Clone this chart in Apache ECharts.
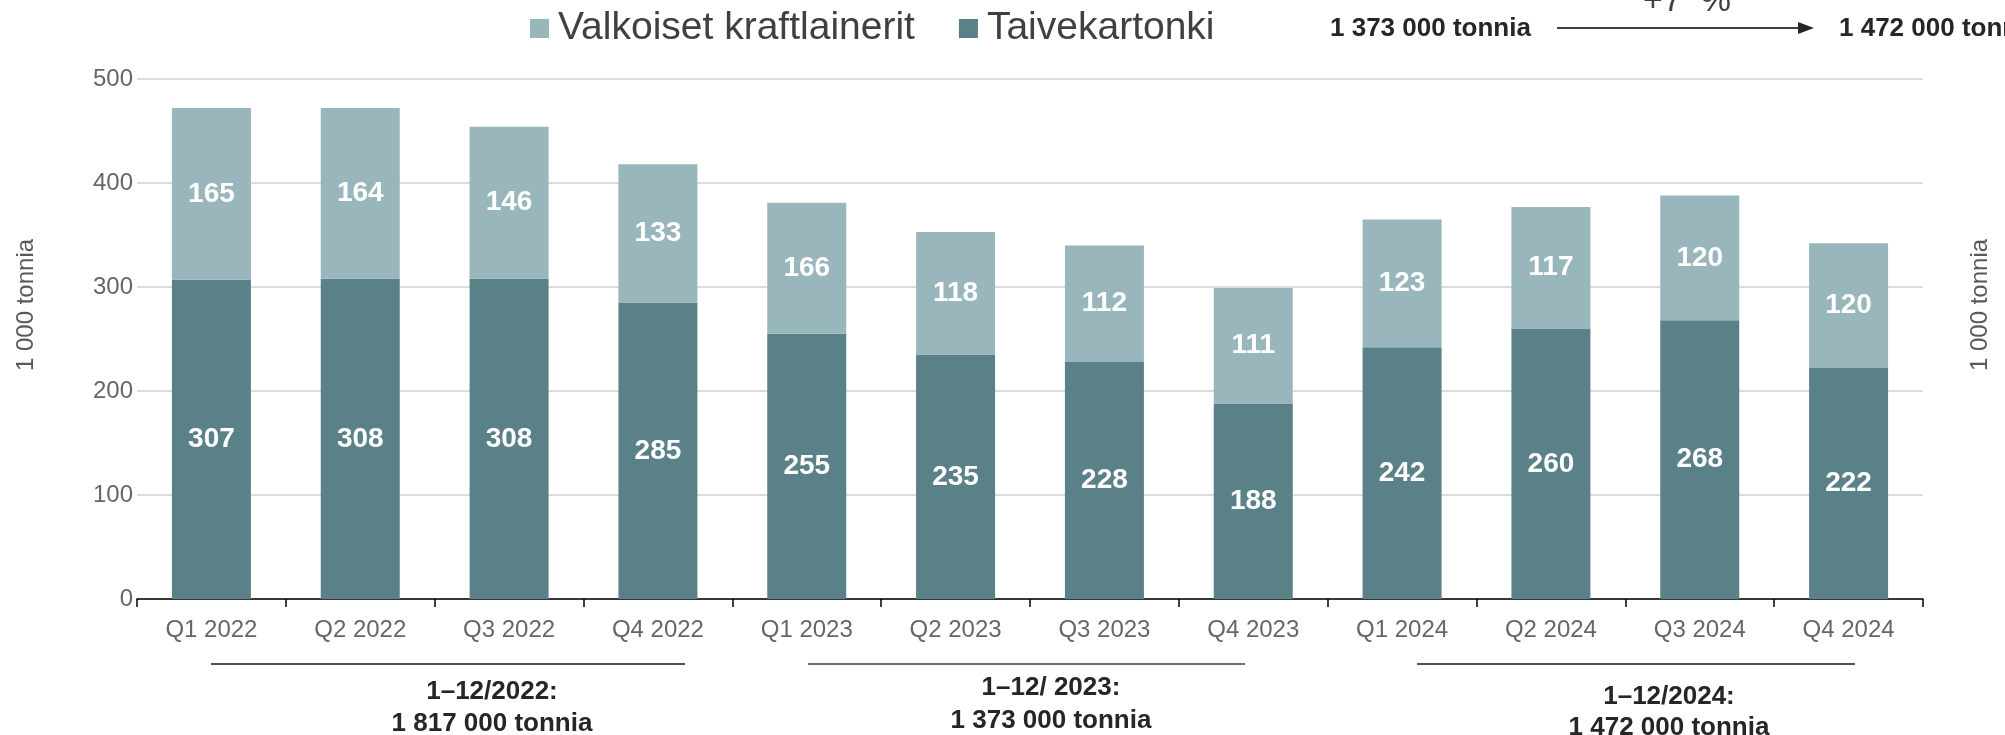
<!DOCTYPE html>
<html>
<head>
<meta charset="utf-8">
<script src="https://cdn.jsdelivr.net/npm/echarts@6/dist/echarts.min.js"></script>
<style>
  html, body { margin: 0; padding: 0; background: #fff; }
  #chart { width: 2005px; height: 735px; }
</style>
</head>
<body>
<div id="chart"></div>
<script>
// neljännekset
const quarters = ['Q1 2022', 'Q2 2022', 'Q3 2022', 'Q4 2022', 'Q1 2023', 'Q2 2023',
  'Q3 2023', 'Q4 2023', 'Q1 2024', 'Q2 2024', 'Q3 2024', 'Q4 2024'];
const taivekartonki = [307, 308, 308, 285, 255, 235, 228, 188, 242, 260, 268, 222];
// palkkien korkeudet kuvasta (Q1 2023 palkki on n. 126, vaikka teksti sanoo 166)
const valkoiset = [165, 164, 146, 133, 126, 118, 112, 111, 123, 117, 120, 120];
const valkoisetLabels = ['165', '164', '146', '133', '166', '118', '112', '111', '123', '117', '120', '120'];
const yTicks = [0, 100, 200, 300, 400, 500];

const darkCol = '#5a8187';
const lightCol = '#98b6bb';
const txt = '#595959';
const font = 'Liberation Sans, Arial, sans-serif';

const myChart = echarts.init(document.getElementById('chart'));

const barLabel = {
  show: true,
  position: 'inside',
  color: '#fff',
  fontFamily: font,
  fontWeight: 'bold',
  fontSize: 28
};

const option = {
  animation: false,
  grid: { left: 137, right: 82, top: 79, bottom: 136 },
  legend: {
    data: ['Valkoiset kraftlainerit', 'Taivekartonki'],
    left: 525,
    top: 4,
    icon: 'rect',
    itemWidth: 19,
    itemHeight: 19,
    itemGap: 44,
    textStyle: { fontFamily: font, fontSize: 39, color: '#404040', padding: [0, 0, 0, 4] }
  },
  xAxis: {
    type: 'category',
    data: quarters,
    axisLine: { lineStyle: { color: '#000', width: 1.5 } },
    axisTick: { show: true, length: 8, lineStyle: { color: '#000', width: 1.5 } },
    axisLabel: { color: '#666', fontFamily: font, fontSize: 24, margin: 19 }
  },
  yAxis: [{
    type: 'value',
    min: yTicks[0],
    max: yTicks[yTicks.length - 1],
    interval: 100,
    axisLine: { show: false },
    axisTick: { show: false },
    splitLine: { lineStyle: { color: '#d0d0d0', width: 1.5 } },
    axisLabel: { color: '#666', fontFamily: font, fontSize: 24, margin: 4 }
  }, {
    type: 'value',
    min: 0,
    max: 500,
    interval: 100,
    axisLine: { show: false },
    axisTick: { show: false },
    splitLine: { show: false },
    axisLabel: { show: false }
  }],
  series: [
    {
      name: 'Taivekartonki',
      type: 'bar',
      stack: 'a',
      barWidth: 79,
      data: taivekartonki,
      itemStyle: { color: darkCol },
      label: barLabel
    },
    {
      name: 'Valkoiset kraftlainerit',
      type: 'bar',
      stack: 'a',
      barWidth: 79,
      data: valkoiset,
      itemStyle: { color: lightCol },
      label: Object.assign({}, barLabel, {
        formatter: function (p) { return valkoisetLabels[p.dataIndex]; }
      })
    }
  ],
  graphic: [
    // akselien nimet
    { type: 'text', x: 26, y: 305, rotation: Math.PI / 2,
      style: { text: '1 000 tonnia', fill: txt, font: '24px ' + font, align: 'center', verticalAlign: 'middle' } },
    { type: 'text', x: 1980, y: 305, rotation: Math.PI / 2,
      style: { text: '1 000 tonnia', fill: txt, font: '24px ' + font, align: 'center', verticalAlign: 'middle' } },

    // ylhäällä oikealla muutos
    { type: 'text', x: 1330, y: 29,
      style: { text: '1 373 000 tonnia', fill: '#262626', font: 'bold 26px ' + font, align: 'left', verticalAlign: 'middle' } },
    { type: 'line', shape: { x1: 1557, y1: 28, x2: 1800, y2: 28 }, style: { stroke: '#404040', lineWidth: 2 } },
    { type: 'polygon', shape: { points: [[1798, 22], [1814, 28], [1798, 34]] }, style: { fill: '#262626' } },
    { type: 'text', x: 1687, y: -15,
      style: { text: '+7  %', fill: '#404040', font: '34px ' + font, align: 'center', verticalAlign: 'top' } },
    { type: 'text', x: 1839, y: 29,
      style: { text: '1 472 000 tonnia', fill: '#262626', font: 'bold 26px ' + font, align: 'left', verticalAlign: 'middle' } },

    // vuosisummat
    { type: 'line', shape: { x1: 211, y1: 664, x2: 685, y2: 664 }, style: { stroke: '#505050', lineWidth: 2 } },
    { type: 'line', shape: { x1: 808, y1: 664, x2: 1245, y2: 664 }, style: { stroke: '#707070', lineWidth: 2 } },
    { type: 'line', shape: { x1: 1417, y1: 664, x2: 1855, y2: 664 }, style: { stroke: '#505050', lineWidth: 2 } },
    { type: 'text', x: 492, y: 692,
      style: { text: '1–12/2022:', fill: '#262626', font: 'bold 26px ' + font, align: 'center', verticalAlign: 'middle' } },
    { type: 'text', x: 492, y: 724,
      style: { text: '1 817 000 tonnia', fill: '#262626', font: 'bold 26px ' + font, align: 'center', verticalAlign: 'middle' } },
    { type: 'text', x: 1051, y: 688,
      style: { text: '1–12/ 2023:', fill: '#262626', font: 'bold 26px ' + font, align: 'center', verticalAlign: 'middle' } },
    { type: 'text', x: 1051, y: 721,
      style: { text: '1 373 000 tonnia', fill: '#262626', font: 'bold 26px ' + font, align: 'center', verticalAlign: 'middle' } },
    { type: 'text', x: 1669, y: 697,
      style: { text: '1–12/2024:', fill: '#262626', font: 'bold 26px ' + font, align: 'center', verticalAlign: 'middle' } },
    { type: 'text', x: 1669, y: 728,
      style: { text: '1 472 000 tonnia', fill: '#262626', font: 'bold 26px ' + font, align: 'center', verticalAlign: 'middle' } }
  ]
};

myChart.setOption(option);
</script>
</body>
</html>
